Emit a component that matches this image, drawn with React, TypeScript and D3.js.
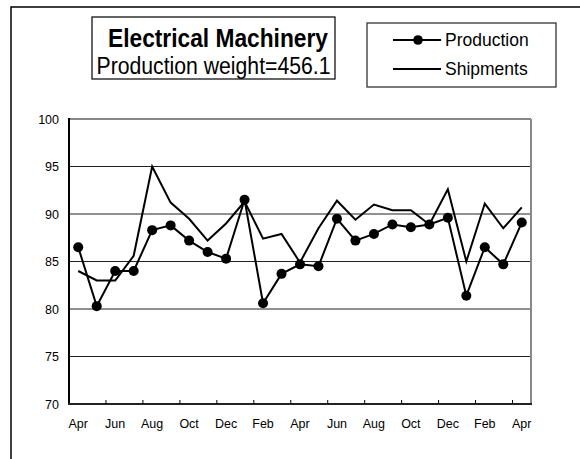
import React from "react";
import * as d3 from "d3";

const months = ["Apr","May","Jun","Jul","Aug","Sep","Oct","Nov","Dec","Jan","Feb","Mar","Apr","May","Jun","Jul","Aug","Sep","Oct","Nov","Dec","Jan","Feb","Mar","Apr"];
const production = [86.5, 80.3, 84.0, 84.0, 88.3, 88.8, 87.2, 86.0, 85.3, 91.5, 80.6, 83.7, 84.7, 84.5, 89.5, 87.2, 87.9, 88.9, 88.6, 88.9, 89.6, 81.4, 86.5, 84.7, 89.1];
const shipments = [84.0, 83.0, 83.0, 85.6, 95.0, 91.2, 89.5, 87.2, 89.0, 91.3, 87.4, 87.9, 84.9, 88.5, 91.4, 89.4, 91.0, 90.4, 90.4, 88.9, 92.6, 85.0, 91.1, 88.5, 90.7];
const yTicks = [70, 75, 80, 85, 90, 95, 100];
const titleText = "Electrical Machinery";
const subtitleText = "Production weight=456.1";

const W = 580, H = 459;
const left = 69, right = 531, top = 119, bottom = 404;
const font = "'Liberation Sans', Arial, sans-serif";

export default function App() {
  const idx = months.map((_, i) => i);
  const x = d3.scaleBand<number>().domain(idx).range([left, right]).padding(0);
  const cx = (i: number) => (x(i) as number) + x.bandwidth() / 2;
  const y = d3.scaleLinear().domain([70, 100]).range([bottom, top]);
  const line = d3.line<number>().x((_, i) => cx(i)).y((d) => y(d));
  const tickIdx = idx.filter((i) => i > 0 && i % 2 === 0);

  return (
    <svg width={W} height={H} style={{ position: "absolute", left: 0, top: 0, background: "#fff" }} fontFamily={font}>
      <rect x={0} y={0} width={W} height={H} fill="#fff" />
      {/* outer frame */}
      <rect x={11} y={7} width={620} height={500} fill="none" stroke="#000" strokeWidth={1.5} />
      {/* title box */}
      <rect x={92} y={17} width={243} height={62} fill="#fff" stroke="#000" strokeWidth={1.2} />
      <text x={218} y={47} textAnchor="middle" fontSize={25} fontWeight="bold" textLength={220} lengthAdjust="spacingAndGlyphs">{titleText}</text>
      <text x={213.5} y={73.5} textAnchor="middle" fontSize={23.5} textLength={234} lengthAdjust="spacingAndGlyphs">{subtitleText}</text>
      {/* legend */}
      <rect x={367} y={23} width={189} height={64} fill="#fff" stroke="#333" strokeWidth={1.3} />
      <line x1={393} x2={441} y1={40} y2={40} stroke="#000" strokeWidth={2} />
      <circle cx={418} cy={40} r={4.8} fill="#000" />
      <text x={445} y={46} fontSize={17.5}>Production</text>
      <line x1={393} x2={441} y1={69} y2={69} stroke="#000" strokeWidth={2} />
      <text x={445} y={75} fontSize={17.5}>Shipments</text>
      {/* gridlines */}
      {yTicks.filter((t) => t > 70 && t < 100).map((t) => (
        <line key={t} x1={left} x2={right} y1={y(t)} y2={y(t)} stroke="#222" strokeWidth={1} />
      ))}
      {/* plot frame top/right */}
      <line x1={left} x2={right} y1={top} y2={top} stroke="#888" strokeWidth={2} />
      <line x1={right} x2={right} y1={top} y2={bottom} stroke="#888" strokeWidth={2} />
      {/* axes */}
      <line x1={left} x2={left} y1={top - 1} y2={bottom + 1} stroke="#000" strokeWidth={2} />
      <line x1={left - 1} x2={right + 1} y1={bottom} y2={bottom} stroke="#222" strokeWidth={2} />
      {tickIdx.map((i) => (
        <line key={i} x1={x(i) as number} x2={x(i) as number} y1={bottom} y2={bottom - 4} stroke="#000" strokeWidth={1} />
      ))}
      {yTicks.map((t) => (
        <text key={t} x={59} y={y(t) + 4.5} textAnchor="end" fontSize={12.5}>{t}</text>
      ))}
      {months.map((m, i) => i % 2 === 0 ? (
        <text key={i} x={cx(i)} y={428} textAnchor="middle" fontSize={12.5}>{m}</text>
      ) : null)}
      {/* series */}
      <path d={line(shipments) || ""} fill="none" stroke="#000" strokeWidth={2} strokeLinejoin="miter" />
      <path d={line(production) || ""} fill="none" stroke="#000" strokeWidth={2} />
      {production.map((v, i) => (
        <circle key={i} cx={cx(i)} cy={y(v)} r={5} fill="#000" />
      ))}
    </svg>
  );
}
